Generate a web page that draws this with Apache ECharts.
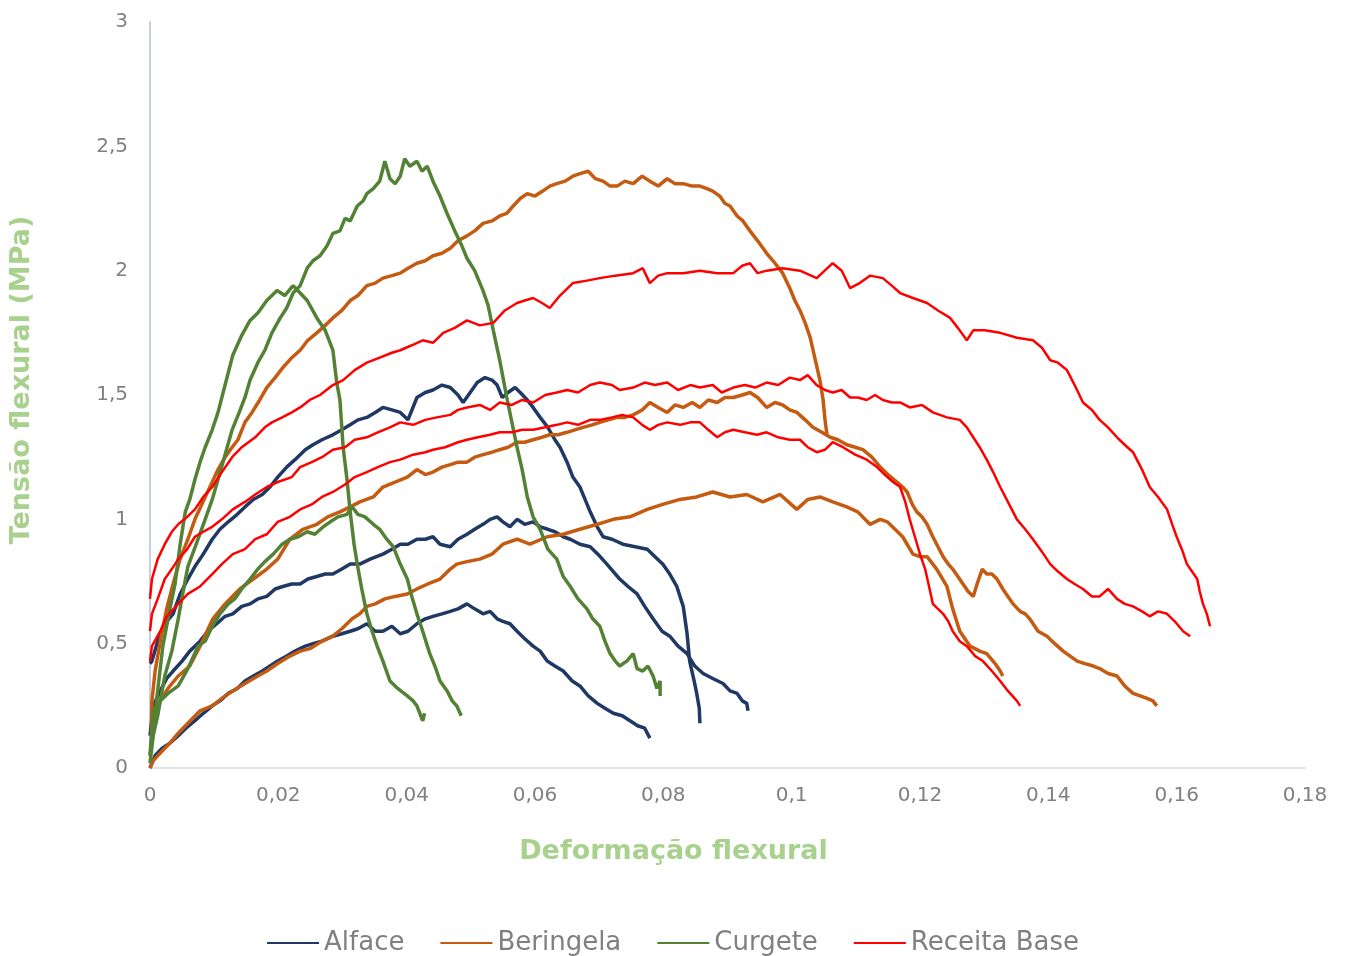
<!DOCTYPE html>
<html>
<head>
<meta charset="utf-8">
<script src="https://cdn.jsdelivr.net/npm/echarts@6/dist/echarts.min.js"></script>
<style>
html,body{margin:0;padding:0;background:#fff;}
#chart{width:1346px;height:956px;}
</style>
</head>
<body>
<div id="chart"></div>
<script>
// ---- tick labels ----
const xTickLabels = ['0','0,02','0,04','0,06','0,08','0,1','0,12','0,14','0,16','0,18'];
const yTickLabels = ['0','0,5','1','1,5','2','2,5','3'];
const seriesNames = ['Alface','Beringela','Curgete','Receita Base'];

// ---- Alface ----
const alface1 = [[0,0.42],[0.0003,0.43],[0.0012,0.51],[0.0023,0.58],[0.0036,0.62],[0.0047,0.70],[0.0059,0.76],[0.0070,0.81],[0.0083,0.86],[0.0097,0.92],[0.0109,0.96],[0.0122,0.99],[0.0136,1.02],[0.0148,1.05],[0.0161,1.08],[0.0175,1.10],[0.0187,1.13],[0.0199,1.17],[0.0213,1.21],[0.0226,1.24],[0.0242,1.28],[0.0254,1.30],[0.0268,1.32],[0.0285,1.34],[0.0299,1.36],[0.0312,1.38],[0.0324,1.40],[0.0338,1.41],[0.0351,1.43],[0.0363,1.45],[0.0377,1.44],[0.0390,1.43],[0.0402,1.40],[0.0416,1.49],[0.0429,1.51],[0.0441,1.52],[0.0455,1.54],[0.0468,1.53],[0.0480,1.50],[0.0488,1.47],[0.0499,1.51],[0.0510,1.55],[0.0522,1.57],[0.0533,1.56],[0.0541,1.54],[0.0549,1.49],[0.0558,1.51],[0.0569,1.53],[0.0577,1.51],[0.0588,1.48],[0.0597,1.45],[0.0608,1.41],[0.0620,1.37],[0.0631,1.32],[0.0639,1.29],[0.0650,1.23],[0.0659,1.17],[0.0670,1.13],[0.0678,1.08],[0.0686,1.03],[0.0697,0.97],[0.0706,0.93],[0.0720,0.92],[0.0737,0.90],[0.0756,0.89],[0.0775,0.88],[0.0787,0.85],[0.0799,0.82],[0.0810,0.78],[0.0821,0.73],[0.0831,0.65],[0.0837,0.54],[0.0841,0.43],[0.0848,0.35],[0.0852,0.30],[0.0856,0.24],[0.0857,0.18]];
const alface2 = [[0,0.13],[0.0005,0.25],[0.0016,0.31],[0.0026,0.36],[0.0036,0.39],[0.0050,0.43],[0.0062,0.47],[0.0078,0.51],[0.0090,0.55],[0.0104,0.58],[0.0117,0.61],[0.0129,0.62],[0.0143,0.65],[0.0156,0.66],[0.0168,0.68],[0.0182,0.69],[0.0195,0.72],[0.0207,0.73],[0.0221,0.74],[0.0234,0.74],[0.0246,0.76],[0.0260,0.77],[0.0273,0.78],[0.0285,0.78],[0.0299,0.80],[0.0312,0.82],[0.0327,0.82],[0.0343,0.84],[0.0363,0.86],[0.0377,0.88],[0.0390,0.90],[0.0402,0.90],[0.0416,0.92],[0.0429,0.92],[0.0441,0.93],[0.0452,0.90],[0.0468,0.89],[0.0480,0.92],[0.0494,0.94],[0.0506,0.96],[0.0519,0.98],[0.0530,1.00],[0.0541,1.01],[0.0550,0.99],[0.0561,0.97],[0.0572,1.00],[0.0584,0.98],[0.0597,0.99],[0.0608,0.97],[0.0620,0.96],[0.0631,0.95],[0.0644,0.93],[0.0655,0.92],[0.0670,0.90],[0.0686,0.89],[0.0698,0.86],[0.0712,0.82],[0.0722,0.79],[0.0732,0.76],[0.0745,0.73],[0.0759,0.70],[0.0771,0.65],[0.0784,0.60],[0.0798,0.55],[0.0810,0.53],[0.0823,0.49],[0.0837,0.46],[0.0849,0.41],[0.0862,0.38],[0.0877,0.36],[0.0893,0.34],[0.0904,0.31],[0.0915,0.30],[0.0923,0.27],[0.0930,0.26],[0.0932,0.23]];
const alface3 = [[0,0.0],[0.0008,0.05],[0.0019,0.08],[0.0031,0.10],[0.0044,0.13],[0.0056,0.16],[0.0070,0.19],[0.0083,0.22],[0.0097,0.25],[0.0109,0.27],[0.0122,0.30],[0.0136,0.32],[0.0148,0.35],[0.0161,0.37],[0.0175,0.39],[0.0187,0.41],[0.0199,0.43],[0.0213,0.45],[0.0226,0.47],[0.0242,0.49],[0.0254,0.50],[0.0268,0.51],[0.0285,0.53],[0.0299,0.54],[0.0312,0.55],[0.0324,0.56],[0.0338,0.58],[0.0351,0.55],[0.0363,0.55],[0.0377,0.57],[0.0390,0.54],[0.0402,0.55],[0.0416,0.58],[0.0429,0.60],[0.0441,0.61],[0.0455,0.62],[0.0468,0.63],[0.0480,0.64],[0.0494,0.66],[0.0506,0.64],[0.0519,0.62],[0.0530,0.63],[0.0541,0.60],[0.0550,0.59],[0.0561,0.58],[0.0572,0.55],[0.0584,0.52],[0.0597,0.49],[0.0608,0.47],[0.0619,0.43],[0.0631,0.41],[0.0644,0.39],[0.0658,0.35],[0.0670,0.33],[0.0683,0.29],[0.0697,0.26],[0.0709,0.24],[0.0722,0.22],[0.0736,0.21],[0.0748,0.19],[0.0760,0.17],[0.0771,0.16],[0.0779,0.12]];

// ---- Beringela ----
const beringela1 = [[0.0002,0.13],[0.0003,0.27],[0.0008,0.39],[0.0016,0.51],[0.0026,0.64],[0.0036,0.74],[0.0047,0.84],[0.0059,0.92],[0.0070,1.00],[0.0086,1.09],[0.0097,1.15],[0.0106,1.20],[0.0117,1.25],[0.0128,1.29],[0.0137,1.32],[0.0148,1.39],[0.0159,1.43],[0.0171,1.48],[0.0182,1.53],[0.0195,1.57],[0.0207,1.61],[0.0221,1.65],[0.0234,1.68],[0.0246,1.72],[0.0260,1.75],[0.0273,1.78],[0.0285,1.81],[0.0299,1.84],[0.0312,1.88],[0.0324,1.90],[0.0338,1.94],[0.0351,1.95],[0.0363,1.97],[0.0377,1.98],[0.0390,1.99],[0.0402,2.01],[0.0416,2.03],[0.0429,2.04],[0.0441,2.06],[0.0455,2.07],[0.0468,2.09],[0.0480,2.12],[0.0494,2.14],[0.0506,2.16],[0.0519,2.19],[0.0533,2.20],[0.0545,2.22],[0.0556,2.23],[0.0566,2.26],[0.0577,2.29],[0.0588,2.31],[0.0600,2.30],[0.0612,2.32],[0.0623,2.34],[0.0634,2.35],[0.0647,2.36],[0.0659,2.38],[0.0670,2.39],[0.0683,2.40],[0.0694,2.37],[0.0706,2.36],[0.0717,2.34],[0.0728,2.34],[0.0740,2.36],[0.0753,2.35],[0.0767,2.38],[0.0779,2.36],[0.0792,2.34],[0.0806,2.37],[0.0818,2.35],[0.0831,2.35],[0.0845,2.34],[0.0857,2.34],[0.0868,2.33],[0.0877,2.32],[0.0888,2.30],[0.0896,2.27],[0.0904,2.26],[0.0915,2.22],[0.0924,2.20],[0.0935,2.16],[0.0947,2.12],[0.0961,2.07],[0.0974,2.03],[0.0986,1.99],[0.0997,1.93],[0.1005,1.88],[0.1013,1.84],[0.1021,1.79],[0.1029,1.73],[0.1036,1.65],[0.1044,1.56],[0.1049,1.48],[0.1052,1.40],[0.1055,1.34]];
const beringela2 = [[0.0002,0.09],[0.0005,0.19],[0.0016,0.27],[0.0028,0.32],[0.0044,0.37],[0.0062,0.41],[0.0078,0.49],[0.0098,0.60],[0.0117,0.66],[0.0140,0.72],[0.0161,0.76],[0.0182,0.80],[0.0199,0.84],[0.0218,0.92],[0.0238,0.96],[0.0260,0.98],[0.0277,1.01],[0.0296,1.03],[0.0312,1.05],[0.0327,1.07],[0.0348,1.09],[0.0363,1.13],[0.0382,1.15],[0.0401,1.17],[0.0416,1.20],[0.0429,1.18],[0.0441,1.19],[0.0455,1.21],[0.0468,1.22],[0.0480,1.23],[0.0494,1.23],[0.0506,1.25],[0.0519,1.26],[0.0533,1.27],[0.0545,1.28],[0.0558,1.29],[0.0572,1.31],[0.0584,1.31],[0.0597,1.32],[0.0611,1.33],[0.0623,1.34],[0.0636,1.34],[0.0650,1.35],[0.0662,1.36],[0.0675,1.37],[0.0689,1.38],[0.0701,1.39],[0.0714,1.40],[0.0728,1.41],[0.0740,1.41],[0.0753,1.42],[0.0767,1.44],[0.0779,1.47],[0.0792,1.45],[0.0806,1.43],[0.0818,1.46],[0.0831,1.45],[0.0845,1.47],[0.0857,1.45],[0.0870,1.48],[0.0884,1.47],[0.0896,1.49],[0.0909,1.49],[0.0923,1.50],[0.0935,1.51],[0.0947,1.49],[0.0961,1.45],[0.0974,1.47],[0.0986,1.46],[0.0997,1.44],[0.1008,1.43],[0.1021,1.40],[0.1033,1.37],[0.1047,1.35],[0.1060,1.33],[0.1072,1.32],[0.1086,1.30],[0.1099,1.29],[0.1111,1.28],[0.1125,1.25],[0.1138,1.21],[0.1150,1.18],[0.1164,1.15],[0.1173,1.13],[0.1180,1.11],[0.1188,1.06],[0.1195,1.03],[0.1203,1.01],[0.1211,0.98],[0.1220,0.93],[0.1228,0.89],[0.1236,0.85],[0.1244,0.82],[0.1251,0.80],[0.1259,0.77],[0.1267,0.74],[0.1275,0.71],[0.1283,0.69],[0.1289,0.74],[0.1297,0.80],[0.1304,0.78],[0.1312,0.78],[0.1320,0.76],[0.1329,0.72],[0.1337,0.69],[0.1345,0.66],[0.1356,0.63],[0.1364,0.62],[0.1371,0.60],[0.1384,0.55],[0.1398,0.53],[0.1410,0.50],[0.1423,0.47],[0.1434,0.45],[0.1445,0.43],[0.1457,0.42],[0.1470,0.41],[0.1480,0.40],[0.1493,0.38],[0.1507,0.37],[0.1519,0.33],[0.1532,0.30],[0.1543,0.29],[0.1554,0.28],[0.1563,0.27],[0.1569,0.25]];
const beringela3 = [[0,0.0],[0.0005,0.03],[0.0016,0.06],[0.0031,0.10],[0.0044,0.14],[0.0059,0.18],[0.0078,0.23],[0.0097,0.25],[0.0112,0.28],[0.0129,0.31],[0.0148,0.34],[0.0168,0.37],[0.0182,0.39],[0.0199,0.42],[0.0218,0.45],[0.0234,0.47],[0.0249,0.48],[0.0268,0.51],[0.0285,0.53],[0.0299,0.56],[0.0315,0.60],[0.0327,0.62],[0.0338,0.65],[0.0351,0.66],[0.0366,0.68],[0.0382,0.69],[0.0401,0.70],[0.0416,0.72],[0.0433,0.74],[0.0452,0.76],[0.0468,0.80],[0.0478,0.82],[0.0494,0.83],[0.0514,0.84],[0.0533,0.86],[0.0550,0.90],[0.0572,0.92],[0.0592,0.90],[0.0619,0.93],[0.0644,0.94],[0.0670,0.96],[0.0697,0.98],[0.0722,1.00],[0.0748,1.01],[0.0775,1.04],[0.0799,1.06],[0.0826,1.08],[0.0852,1.09],[0.0877,1.11],[0.0904,1.09],[0.0930,1.10],[0.0955,1.07],[0.0982,1.10],[0.1008,1.04],[0.1025,1.08],[0.1044,1.09],[0.1064,1.07],[0.1086,1.05],[0.1103,1.03],[0.1122,0.98],[0.1138,1.00],[0.1149,0.99],[0.1161,0.96],[0.1173,0.93],[0.1189,0.86],[0.1200,0.85],[0.1211,0.85],[0.1226,0.80],[0.1242,0.73],[0.1251,0.64],[0.1262,0.55],[0.1278,0.49],[0.1293,0.47],[0.1304,0.46],[0.1317,0.42],[0.1325,0.39],[0.1329,0.37]];

// ---- Curgete ----
const curgete1 = [[0,0.05],[0.0003,0.11],[0.0012,0.21],[0.0023,0.37],[0.0034,0.47],[0.0044,0.60],[0.0051,0.70],[0.0059,0.81],[0.0072,0.90],[0.0086,1.00],[0.0097,1.08],[0.0106,1.16],[0.0117,1.26],[0.0128,1.36],[0.0139,1.43],[0.0148,1.49],[0.0156,1.56],[0.0168,1.63],[0.0179,1.68],[0.0190,1.75],[0.0203,1.81],[0.0213,1.85],[0.0223,1.91],[0.0234,1.94],[0.0245,2.01],[0.0254,2.04],[0.0265,2.06],[0.0276,2.10],[0.0285,2.15],[0.0296,2.16],[0.0304,2.21],[0.0312,2.20],[0.0323,2.26],[0.0332,2.28],[0.0338,2.31],[0.0348,2.33],[0.0358,2.36],[0.0366,2.44],[0.0374,2.37],[0.0382,2.35],[0.0390,2.38],[0.0397,2.45],[0.0405,2.42],[0.0416,2.44],[0.0424,2.40],[0.0432,2.42],[0.0441,2.36],[0.0452,2.30],[0.0463,2.23],[0.0475,2.16],[0.0486,2.10],[0.0494,2.05],[0.0506,2.00],[0.0519,1.92],[0.0527,1.86],[0.0535,1.76],[0.0545,1.64],[0.0556,1.49],[0.0564,1.39],[0.0572,1.29],[0.0580,1.20],[0.0588,1.09],[0.0597,1.01],[0.0608,0.96],[0.0620,0.88],[0.0634,0.84],[0.0644,0.77],[0.0655,0.73],[0.0667,0.68],[0.0681,0.64],[0.0690,0.60],[0.0701,0.57],[0.0709,0.51],[0.0717,0.46],[0.0725,0.43],[0.0732,0.41],[0.0743,0.43],[0.0753,0.46],[0.0759,0.40],[0.0768,0.39],[0.0776,0.41],[0.0784,0.37],[0.0790,0.32],[0.0795,0.35],[0.0795,0.29]];
const curgete2 = [[0,0.02],[0.0005,0.13],[0.0011,0.29],[0.0020,0.49],[0.0031,0.64],[0.0039,0.74],[0.0047,0.90],[0.0055,1.03],[0.0062,1.08],[0.0070,1.16],[0.0078,1.23],[0.0086,1.29],[0.0097,1.36],[0.0106,1.43],[0.0117,1.54],[0.0129,1.66],[0.0143,1.74],[0.0156,1.80],[0.0168,1.83],[0.0182,1.88],[0.0198,1.92],[0.0210,1.90],[0.0223,1.94],[0.0234,1.91],[0.0245,1.88],[0.0260,1.81],[0.0273,1.76],[0.0285,1.68],[0.0291,1.55],[0.0296,1.48],[0.0301,1.29],[0.0307,1.16],[0.0312,1.03],[0.0318,0.90],[0.0323,0.82],[0.0330,0.72],[0.0338,0.62],[0.0346,0.55],[0.0354,0.49],[0.0363,0.43],[0.0374,0.35],[0.0386,0.32],[0.0401,0.29],[0.0410,0.27],[0.0416,0.25],[0.0425,0.19],[0.0428,0.22]];
const curgete3 = [[0,0.05],[0.0005,0.23],[0.0016,0.27],[0.0028,0.30],[0.0044,0.33],[0.0059,0.40],[0.0075,0.49],[0.0086,0.51],[0.0097,0.57],[0.0109,0.62],[0.0122,0.66],[0.0132,0.68],[0.0143,0.72],[0.0156,0.76],[0.0168,0.80],[0.0179,0.83],[0.0192,0.86],[0.0206,0.90],[0.0218,0.92],[0.0231,0.93],[0.0245,0.95],[0.0257,0.94],[0.0270,0.97],[0.0281,0.99],[0.0293,1.01],[0.0307,1.02],[0.0315,1.05],[0.0324,1.02],[0.0335,1.01],[0.0348,0.98],[0.0358,0.96],[0.0369,0.92],[0.0379,0.89],[0.0390,0.82],[0.0401,0.76],[0.0408,0.69],[0.0416,0.62],[0.0425,0.55],[0.0436,0.46],[0.0444,0.41],[0.0452,0.35],[0.0463,0.31],[0.0471,0.27],[0.0478,0.25],[0.0485,0.21]];

// ---- Receita Base ----
const receita1 = [[0,0.68],[0.0003,0.76],[0.0012,0.84],[0.0023,0.90],[0.0034,0.95],[0.0044,0.98],[0.0058,1.01],[0.0070,1.04],[0.0083,1.09],[0.0097,1.13],[0.0112,1.19],[0.0128,1.25],[0.0143,1.29],[0.0164,1.33],[0.0179,1.37],[0.0190,1.39],[0.0206,1.41],[0.0221,1.43],[0.0234,1.45],[0.0249,1.48],[0.0265,1.50],[0.0285,1.54],[0.0301,1.56],[0.0319,1.60],[0.0338,1.63],[0.0358,1.65],[0.0377,1.67],[0.0390,1.68],[0.0408,1.70],[0.0425,1.72],[0.0441,1.71],[0.0457,1.75],[0.0475,1.77],[0.0494,1.80],[0.0514,1.78],[0.0535,1.79],[0.0553,1.84],[0.0572,1.87],[0.0584,1.88],[0.0597,1.89],[0.0611,1.87],[0.0623,1.85],[0.0639,1.90],[0.0659,1.95],[0.0681,1.96],[0.0701,1.97],[0.0725,1.98],[0.0753,1.99],[0.0768,2.01],[0.0779,1.95],[0.0792,1.98],[0.0806,1.99],[0.0831,1.99],[0.0857,2.00],[0.0884,1.99],[0.0909,1.99],[0.0923,2.02],[0.0935,2.03],[0.0947,1.99],[0.0961,2.00],[0.0986,2.01],[0.1013,2.00],[0.1039,1.97],[0.1064,2.03],[0.1078,2.00],[0.1091,1.93],[0.1106,1.95],[0.1122,1.98],[0.1142,1.97],[0.1156,1.94],[0.1169,1.91],[0.1189,1.89],[0.1211,1.87],[0.1228,1.84],[0.1247,1.81],[0.1259,1.77],[0.1273,1.72],[0.1283,1.76],[0.1301,1.76],[0.1325,1.75],[0.1351,1.73],[0.1376,1.72],[0.1390,1.69],[0.1403,1.64],[0.1415,1.63],[0.1429,1.60],[0.1441,1.54],[0.1454,1.47],[0.1468,1.44],[0.1480,1.40],[0.1493,1.37],[0.1507,1.33],[0.1519,1.30],[0.1532,1.27],[0.1546,1.20],[0.1558,1.13],[0.1571,1.09],[0.1585,1.04],[0.1593,0.98],[0.1600,0.93],[0.1608,0.88],[0.1616,0.82],[0.1624,0.79],[0.1632,0.76],[0.1636,0.71],[0.1641,0.66],[0.1647,0.62],[0.1652,0.57]];
const receita2 = [[0,0.55],[0.0003,0.62],[0.0012,0.68],[0.0023,0.76],[0.0034,0.80],[0.0044,0.84],[0.0058,0.88],[0.0070,0.93],[0.0083,0.95],[0.0097,0.97],[0.0112,1.00],[0.0129,1.04],[0.0148,1.07],[0.0164,1.10],[0.0182,1.13],[0.0199,1.15],[0.0221,1.17],[0.0234,1.21],[0.0252,1.23],[0.0268,1.25],[0.0285,1.28],[0.0304,1.29],[0.0319,1.32],[0.0338,1.33],[0.0355,1.35],[0.0374,1.37],[0.0390,1.39],[0.0410,1.38],[0.0429,1.40],[0.0447,1.41],[0.0468,1.42],[0.0480,1.44],[0.0494,1.45],[0.0514,1.46],[0.0530,1.44],[0.0545,1.47],[0.0564,1.46],[0.0580,1.48],[0.0597,1.47],[0.0616,1.50],[0.0634,1.51],[0.0650,1.52],[0.0667,1.51],[0.0686,1.54],[0.0701,1.55],[0.0720,1.54],[0.0732,1.52],[0.0753,1.53],[0.0771,1.55],[0.0787,1.54],[0.0806,1.55],[0.0823,1.52],[0.0842,1.54],[0.0857,1.53],[0.0877,1.54],[0.0891,1.51],[0.0909,1.53],[0.0927,1.54],[0.0943,1.53],[0.0961,1.55],[0.0979,1.54],[0.0997,1.57],[0.1013,1.56],[0.1025,1.58],[0.1039,1.54],[0.1052,1.52],[0.1064,1.51],[0.1078,1.52],[0.1091,1.49],[0.1103,1.49],[0.1117,1.48],[0.1130,1.50],[0.1142,1.48],[0.1156,1.47],[0.1169,1.47],[0.1184,1.45],[0.1203,1.46],[0.1220,1.43],[0.1242,1.41],[0.1262,1.40],[0.1273,1.37],[0.1283,1.33],[0.1293,1.29],[0.1304,1.24],[0.1314,1.19],[0.1325,1.13],[0.1337,1.07],[0.1351,1.00],[0.1364,0.96],[0.1376,0.92],[0.1390,0.87],[0.1403,0.82],[0.1415,0.79],[0.1429,0.76],[0.1441,0.74],[0.1454,0.72],[0.1468,0.69],[0.1480,0.69],[0.1493,0.72],[0.1507,0.68],[0.1519,0.66],[0.1532,0.65],[0.1546,0.63],[0.1558,0.61],[0.1571,0.63],[0.1585,0.62],[0.1597,0.59],[0.1610,0.55],[0.1621,0.53]];
const receita3 = [[0,0.43],[0.0003,0.49],[0.0016,0.55],[0.0026,0.61],[0.0044,0.66],[0.0059,0.70],[0.0078,0.73],[0.0097,0.78],[0.0112,0.82],[0.0129,0.86],[0.0148,0.88],[0.0164,0.92],[0.0182,0.94],[0.0199,0.99],[0.0218,1.01],[0.0234,1.04],[0.0252,1.06],[0.0268,1.09],[0.0285,1.11],[0.0304,1.14],[0.0319,1.17],[0.0338,1.19],[0.0355,1.21],[0.0374,1.23],[0.0390,1.24],[0.0410,1.26],[0.0429,1.27],[0.0441,1.28],[0.0460,1.29],[0.0480,1.31],[0.0494,1.32],[0.0511,1.33],[0.0530,1.34],[0.0545,1.35],[0.0564,1.35],[0.0580,1.36],[0.0597,1.36],[0.0616,1.37],[0.0634,1.38],[0.0650,1.39],[0.0667,1.38],[0.0686,1.40],[0.0701,1.40],[0.0720,1.41],[0.0736,1.42],[0.0753,1.41],[0.0767,1.38],[0.0779,1.36],[0.0792,1.38],[0.0806,1.39],[0.0826,1.38],[0.0842,1.39],[0.0857,1.39],[0.0870,1.36],[0.0884,1.33],[0.0896,1.35],[0.0909,1.36],[0.0927,1.35],[0.0946,1.34],[0.0961,1.35],[0.0979,1.33],[0.0997,1.32],[0.1013,1.32],[0.1025,1.29],[0.1039,1.27],[0.1052,1.28],[0.1064,1.31],[0.1080,1.29],[0.1099,1.26],[0.1117,1.24],[0.1133,1.21],[0.1145,1.18],[0.1158,1.15],[0.1169,1.13],[0.1177,1.07],[0.1184,1.00],[0.1192,0.93],[0.1200,0.86],[0.1208,0.80],[0.1215,0.72],[0.1220,0.66],[0.1228,0.64],[0.1236,0.62],[0.1244,0.59],[0.1251,0.55],[0.1262,0.51],[0.1273,0.49],[0.1286,0.45],[0.1298,0.43],[0.1312,0.39],[0.1325,0.35],[0.1337,0.31],[0.1351,0.27],[0.1356,0.25]];

const groups = [
  {name: seriesNames[0], color: '#1f3864', width: 3.5, curves: [alface1, alface2, alface3]},
  {name: seriesNames[1], color: '#c55a11', width: 3.5, curves: [beringela1, beringela2, beringela3]},
  {name: seriesNames[2], color: '#548235', width: 3.5, curves: [curgete1, curgete2, curgete3]},
  {name: seriesNames[3], color: '#ff0000', width: 2.5, curves: [receita1, receita2, receita3]}
];

const series = [];
groups.forEach(g => {
  g.curves.forEach(c => {
    series.push({
      name: g.name, type: 'line', data: c, showSymbol: false, symbol: 'none',
      lineStyle: {color: g.color, width: g.width}, itemStyle: {color: g.color},
      emphasis: {disabled: true}, animation: false
    });
  });
});

const FONT = 'DejaVu Sans';
const chart = echarts.init(document.getElementById('chart'), null, {renderer: 'canvas'});
chart.setOption({
  animation: false,
  backgroundColor: '#ffffff',
  grid: {left: 150, right: 41, top: 22, bottom: 188, containLabel: false, outerBoundsMode: 'none'},
  legend: {
    data: seriesNames, left: 'center', top: 925, icon: 'rect',
    itemWidth: 52, itemHeight: 2, itemGap: 36,
    textStyle: {fontFamily: FONT, fontSize: 26, color: '#808080'}
  },
  xAxis: {
    type: 'value', min: 0, max: 0.18, interval: 0.02,
    name: 'Deformação flexural', nameLocation: 'middle', nameGap: 70,
    nameTextStyle: {fontFamily: FONT, fontSize: 27, fontWeight: 'bold', color: '#a9d18e', padding: [0, 108, 0, 0]},
    axisLine: {show: true, lineStyle: {color: '#d9d9d9', width: 1.5}},
    axisTick: {show: false},
    splitLine: {show: false},
    axisLabel: {margin: 18, fontFamily: FONT, fontSize: 20, color: '#808080',
      formatter: v => xTickLabels[Math.round(v / 0.02)] }
  },
  yAxis: {
    type: 'value', min: 0, max: 3, interval: 0.5,
    name: 'Tensão flexural (MPa)', nameLocation: 'middle', nameGap: 115, nameRotate: 90,
    nameTextStyle: {fontFamily: FONT, fontSize: 27, fontWeight: 'bold', color: '#a9d18e', padding: [0, 0, 0, 30]},
    axisLine: {show: true, lineStyle: {color: '#b4bfd0', width: 1.5}},
    axisTick: {show: false},
    splitLine: {show: false},
    axisLabel: {margin: 22, fontFamily: FONT, fontSize: 20, color: '#808080',
      formatter: v => yTickLabels[Math.round(v / 0.5)] }
  },
  series: series
});
</script>
</body>
</html>
